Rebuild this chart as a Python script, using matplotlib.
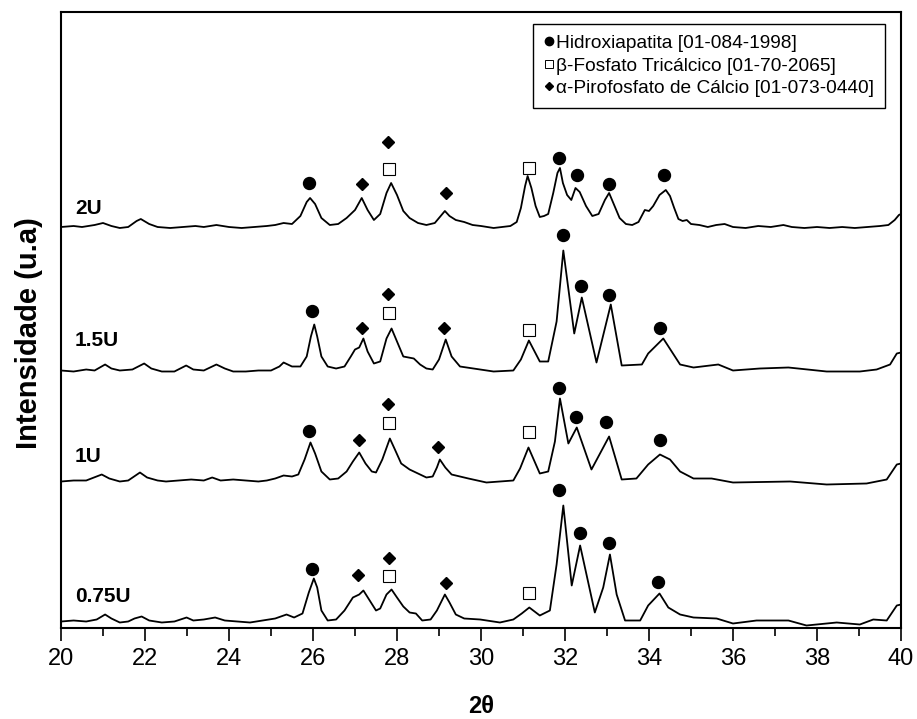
import matplotlib
matplotlib.use('Agg')
import matplotlib.pyplot as plt
from matplotlib.lines import Line2D
from matplotlib.ticker import MultipleLocator

plt.rcParams['font.family'] = ['Liberation Sans', 'DejaVu Sans']

# digitised patterns: 2theta and intensity above each pattern's own baseline (a.u.)
x_075 = [20.0, 20.3, 20.6, 20.85, 21.05, 21.2, 21.4, 21.6, 21.75, 21.92, 22.1, 22.4, 22.7, 22.99, 23.15,
         23.4, 23.67, 23.9, 24.2, 24.5, 24.8, 25.1, 25.37, 25.55, 25.75, 25.9, 26.02, 26.1, 26.2, 26.35,
         26.55, 26.75, 26.95, 27.1, 27.2, 27.35, 27.5, 27.6, 27.75, 27.87, 28.0, 28.15, 28.3, 28.45, 28.6,
         28.8, 28.95, 29.14, 29.25, 29.4, 29.6, 29.98, 30.45, 30.77, 30.97, 31.15, 31.4, 31.64, 31.8, 31.96,
         32.16, 32.36, 32.71, 32.91, 33.07, 33.23, 33.43, 33.79, 33.98, 34.25, 34.46, 34.74, 35.06, 35.61,
         36.0, 36.56, 37.32, 37.75, 38.47, 39.02, 39.34, 39.66, 39.9, 40.0]
y_075 = [1, 2, 1, 3, 8, 4, 0, 1, 4, 6, 2, 0, 1, 5, 2,
         3, 5, 2, 1, 0, 2, 4, 8, 5, 9, 30, 44, 35, 12, 2,
         3, 12, 25, 28, 32, 22, 12, 14, 28, 33, 25, 16, 10, 9, 2,
         3, 12, 28, 20, 8, 4, 3, 0, 3, 9, 15, 7, 12, 58, 117,
         37, 77, 10, 35, 68, 28, 2, 2, 17, 29, 15, 8, 5, 4,
         -1, 2, 2, -3, 0, -2, 3, 2, 17, 18]

x_1 = [20.0, 20.3, 20.6, 20.97, 21.15, 21.4, 21.6, 21.88, 22.05, 22.3, 22.5, 22.8, 23.1, 23.4, 23.6,
       23.8, 24.1, 24.4, 24.7, 24.9, 25.1, 25.3, 25.5, 25.65, 25.8, 25.94, 26.05, 26.2, 26.4, 26.6,
       26.8, 26.95, 27.1, 27.25, 27.4, 27.5, 27.65, 27.83, 27.95, 28.1, 28.3, 28.5, 28.7, 28.85, 28.95,
       29.02, 29.15, 29.3, 29.5, 29.7, 30.13, 30.77, 30.93, 31.13, 31.4, 31.6, 31.76, 31.88, 32.08, 32.28,
       32.63, 33.05, 33.35, 33.7, 33.98, 34.26, 34.5, 34.74, 35.06, 35.49, 36.0, 37.36, 38.23, 39.18,
       39.66, 39.9, 40.0]
y_1 = [0, 1, 1, 7, 3, 0, 1, 9, 4, 1, 0, 1, 2, 1, 4,
       1, 2, 1, 0, 1, 3, 6, 5, 7, 22, 39, 28, 10, 2, 3,
       10, 20, 29, 18, 10, 9, 22, 43, 32, 18, 12, 8, 4, 5, 14,
       22, 14, 7, 5, 3, -1, 1, 13, 34, 8, 10, 40, 83, 38, 54,
       12, 45, 2, 3, 17, 27, 22, 10, 3, 3, -1, 0, -3, -2,
       2, 17, 18]

x_15 = [20.0, 20.3, 20.6, 20.8, 21.05, 21.2, 21.4, 21.7, 21.98, 22.15, 22.4, 22.7, 22.98, 23.15, 23.4,
        23.7, 23.9, 24.1, 24.4, 24.7, 25.0, 25.2, 25.3, 25.5, 25.7, 25.85, 25.95, 26.03, 26.1, 26.2,
        26.35, 26.55, 26.75, 26.9, 27.0, 27.1, 27.2, 27.3, 27.45, 27.6, 27.75, 27.87, 28.0, 28.15, 28.4,
        28.55, 28.7, 28.85, 29.0, 29.16, 29.3, 29.5, 30.3, 30.77, 30.95, 31.14, 31.4, 31.6, 31.8, 31.96,
        32.22, 32.4, 32.75, 33.09, 33.35, 33.83, 33.98, 34.34, 34.74, 35.06, 35.65, 36.0, 36.64, 37.32,
        38.23, 39.02, 39.42, 39.74, 39.9, 40.0]
y_15 = [1, 0, 2, 1, 7, 3, 1, 2, 8, 3, 0, 0, 6, 2, 1,
        7, 3, 0, 0, 1, 1, 5, 9, 5, 5, 15, 35, 47, 35, 15,
        5, 3, 5, 15, 22, 24, 33, 20, 8, 10, 33, 43, 30, 15, 13,
        7, 3, 2, 12, 32, 15, 5, 0, 1, 12, 31, 10, 10, 50, 121,
        38, 74, 9, 67, 6, 7, 18, 33, 7, 4, 7, 1, 3, 4,
        0, 0, 2, 7, 18, 19]

x_2 = [20.0, 20.3, 20.5, 20.8, 21.0, 21.2, 21.4, 21.6, 21.8, 21.9, 22.1, 22.3, 22.6, 22.9, 23.2,
       23.4, 23.7, 24.0, 24.3, 24.6, 24.9, 25.1, 25.3, 25.5, 25.7, 25.85, 25.93, 26.05, 26.2, 26.4,
       26.6, 26.8, 27.0, 27.16, 27.3, 27.45, 27.6, 27.75, 27.86, 28.0, 28.15, 28.3, 28.5, 28.7, 28.9,
       29.0, 29.14, 29.25, 29.4, 29.6, 29.8, 30.0, 30.3, 30.5, 30.7, 30.85, 30.95, 31.05, 31.11, 31.2,
       31.3, 31.4, 31.5, 31.6, 31.72, 31.82, 31.88, 31.95, 32.05, 32.15, 32.25, 32.35, 32.5, 32.65, 32.8,
       32.95, 33.05, 33.15, 33.3, 33.45, 33.6, 33.75, 33.9, 34.0, 34.1, 34.25, 34.4, 34.5, 34.6, 34.7,
       34.8, 34.9, 35.0, 35.2, 35.4, 35.6, 35.8, 36.0, 36.3, 36.6, 36.9, 37.2, 37.4, 37.7, 38.0,
       38.3, 38.6, 38.9, 39.2, 39.5, 39.7, 39.85, 39.95, 40.0]
y_2 = [1, 2, 1, 3, 5, 2, 0, 1, 7, 9, 4, 1, 0, 1, 2,
       1, 3, 1, 0, 1, 2, 3, 5, 4, 12, 26, 30, 24, 10, 3,
       4, 10, 18, 30, 18, 8, 14, 35, 45, 33, 17, 10, 5, 3, 5,
       10, 17, 12, 8, 6, 3, 2, 0, 1, 2, 6, 20, 42, 52, 40,
       22, 11, 12, 14, 35, 55, 60, 45, 33, 28, 40, 36, 22, 12, 14,
       28, 35, 25, 10, 4, 3, 6, 18, 17, 22, 33, 38, 32, 20, 9,
       7, 8, 4, 3, 1, 3, 4, 1, 0, 2, 1, 3, 1, 0, 1,
       0, 1, 0, 1, 2, 3, 8, 13, 14]

samples = ['0.75U', '1U', '1.5U', '2U']
xs = [x_075, x_1, x_15, x_2]
ys = [y_075, y_1, y_15, y_2]
offsets = [5.5, 146.5, 256.5, 400]
label_dy = [25.5, 25.5, 31.5, 19]

# phase marks (2theta, height above the pattern baseline)
hap_x = [[25.98, 31.85, 32.36, 33.05, 34.22],
         [25.90, 31.85, 32.27, 32.97, 34.25],
         [25.98, 31.96, 32.38, 33.05, 34.25],
         [25.91, 31.85, 32.29, 33.05, 34.36]]
hap_y = [[54, 133, 90, 80, 41],
         [51, 94, 65, 59.5, 42],
         [61, 137, 85.5, 77, 44],
         [45, 70, 53, 44, 53]]
tcp_x = [[27.82, 31.14], [27.82, 31.14], [27.81, 31.14], [27.82, 31.14]]
tcp_y = [[46.5, 30], [58.5, 50], [59, 41.5], [59, 60]]
cpp_x = [[27.08, 27.82, 29.16],
         [27.10, 27.78, 28.98],
         [27.16, 27.78, 29.13],
         [27.16, 27.78, 29.16]]
cpp_y = [[48, 65, 40],
         [42, 78, 35],
         [44, 77.5, 44],
         [44, 86, 35]]

legend_labels = ['Hidroxiapatita [01-084-1998]',
                 'β-Fosfato Tricálcico [01-70-2065]',
                 'α-Pirofosfato de Cálcio [01-073-0440]']

fig = plt.figure(figsize=(9.17, 7.19), dpi=100)
ax = fig.add_axes([61 / 917, 1 - 628 / 719, 840 / 917, 616 / 719])

for i in range(len(samples)):
    off = offsets[i]
    ax.plot(xs[i], [v + off for v in ys[i]], color='black', lw=1.3)
    ax.plot(hap_x[i], [v + off for v in hap_y[i]], 'o', color='black', ms=8.6, ls='none')
    ax.plot(tcp_x[i], [v + off for v in tcp_y[i]], 's', mfc='white', mec='black', mew=0.8,
            ms=8.2, ls='none')
    ax.plot(cpp_x[i], [v + off for v in cpp_y[i]], 'D', color='black', ms=6.3, ls='none')
    ax.text(20.33, off + label_dy[i], samples[i], fontsize=15, fontweight='bold',
            ha='left', va='center')

ax.set_xlim(20, 40)
ax.set_ylim(0, 616)
ax.set_yticks([])
ax.xaxis.set_major_locator(MultipleLocator(2))
ax.xaxis.set_minor_locator(MultipleLocator(1))
ax.tick_params(axis='x', which='major', direction='out', length=9.4, width=1.2, labelsize=17, pad=5)
ax.tick_params(axis='x', which='minor', direction='out', length=5.8, width=1.2)
for s in ax.spines.values():
    s.set_linewidth(1.5)

ax.set_xlabel('2θ', fontsize=17, fontweight='bold', labelpad=18)
ax.set_ylabel('Intensidade (u.a)', fontsize=21, fontweight='bold')
ax.yaxis.set_label_coords(-0.022, 0.479)

handles = [Line2D([], [], marker='o', color='black', ls='none', ms=6),
           Line2D([], [], marker='s', mfc='white', mec='black', mew=0.7, ls='none', ms=5.8),
           Line2D([], [], marker='D', color='black', ls='none', ms=4.2)]
leg = ax.legend(handles, legend_labels, loc='upper right', bbox_to_anchor=(0.981, 0.9805),
                borderaxespad=0, fontsize=13.8, handlelength=0.65, handletextpad=0.05,
                labelspacing=0.27, borderpad=0.55, fancybox=False, framealpha=1,
                edgecolor='black')
leg.get_frame().set_linewidth(1.0)

fig.savefig('out.png', dpi=100)
